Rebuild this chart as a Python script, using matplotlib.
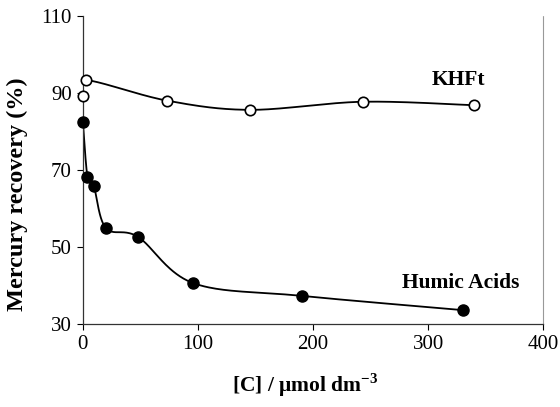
import numpy as np
import matplotlib
matplotlib.use("Agg")
import matplotlib.pyplot as plt

plt.rcParams['font.family'] = ['Liberation Serif', 'DejaVu Serif']
plt.rcParams['mathtext.fontset'] = 'custom'
plt.rcParams['mathtext.rm'] = 'Liberation Serif'
plt.rcParams['mathtext.bf'] = 'Liberation Serif:bold'

# Data
khft_x = [0, 3, 73, 145, 243, 340]
khft_y = [89.3, 93.3, 88.0, 85.6, 87.7, 86.8]
humic_x = [0, 4, 9.5, 20, 48, 96, 190, 330]
humic_y = [82.5, 68.2, 65.8, 54.9, 52.6, 40.6, 37.3, 33.6]

x_ticks = [0, 100, 200, 300, 400]
y_ticks = [30, 50, 70, 90, 110]


def smooth(xs, ys, n=40):
    """Catmull-Rom (Excel-like smoothed line) through the points."""
    p = np.column_stack([xs, ys]).astype(float)
    p = np.vstack([p[0], p, p[-1]])
    out = []
    t = np.linspace(0, 1, n)[:, None]
    for i in range(1, len(p) - 2):
        p0, p1, p2, p3 = p[i - 1], p[i], p[i + 1], p[i + 2]
        c1 = p1 + (p2 - p0) / 6
        c2 = p2 - (p3 - p1) / 6
        seg = ((1 - t) ** 3) * p1 + 3 * ((1 - t) ** 2) * t * c1 + 3 * (1 - t) * t ** 2 * c2 + t ** 3 * p2
        out.append(seg)
    out = np.vstack(out)
    return out[:, 0], out[:, 1]


fig = plt.figure(figsize=(5.6, 4.07), dpi=100)
ax = fig.add_axes([0.148, 0.204, 0.822, 0.757])

sx, sy = smooth(khft_x, khft_y)
ax.plot(sx, sy, color='black', lw=1.3, zorder=2)
ax.plot(khft_x, khft_y, 'o', mfc='white', mec='black', mew=1.2, ms=7.5, zorder=3, clip_on=False)

sx, sy = smooth(humic_x, humic_y)
ax.plot(sx, sy, color='black', lw=1.3, zorder=2)
ax.plot(humic_x, humic_y, 'o', mfc='black', mec='black', ms=8, zorder=3, clip_on=False)

ax.set_xlim(0, 400)
ax.set_ylim(30, 110)
ax.set_xticks(x_ticks)
ax.set_yticks(y_ticks)
ax.tick_params(direction='out', length=4, width=0.8, labelsize=15, pad=4)

for s in ['left', 'bottom']:
    ax.spines[s].set_linewidth(0.9)
    ax.spines[s].set_color('#333333')
ax.spines['top'].set_visible(False)
ax.spines['right'].set_color('#999999')
ax.spines['right'].set_linewidth(0.8)
ax.spines['right'].set_linestyle((0, (1, 1)))

ax.set_ylabel('Mercury recovery (%)', fontsize=17.5, fontweight='bold')
ax.yaxis.set_label_coords(-0.12, 0.42)
ax.set_xlabel(r'[C] / μmol dm$^{\mathbf{-3}}$', fontsize=15.5, fontweight='bold')
ax.xaxis.set_label_coords(0.483, -0.155)

ax.text(326, 93.4, 'KHFt', fontsize=15.5, fontweight='bold', ha='center', va='center')
ax.text(328, 40.6, 'Humic Acids', fontsize=15.5, fontweight='bold', ha='center', va='center')

fig.savefig('out.png', dpi=100)
